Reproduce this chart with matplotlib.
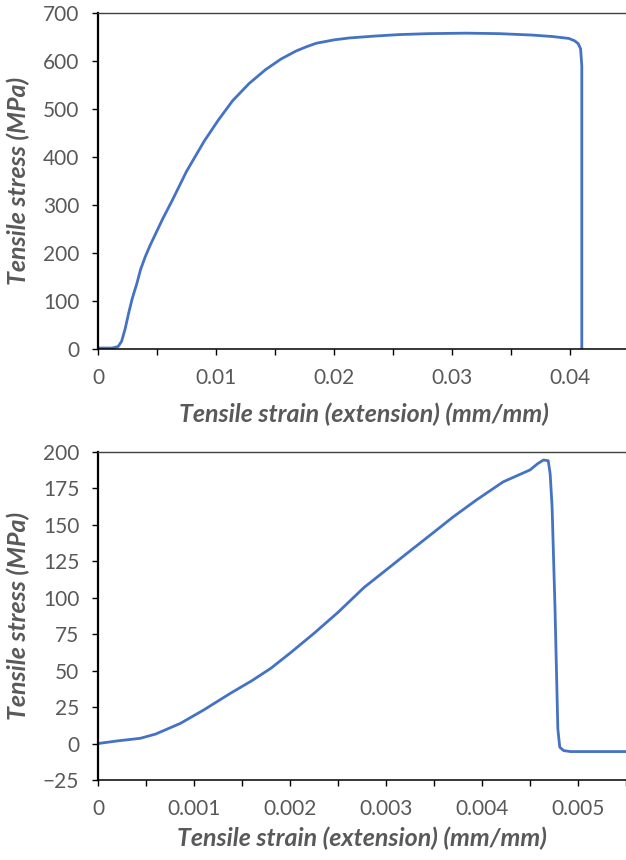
import matplotlib
matplotlib.use("Agg")
from matplotlib import pyplot as plt
from matplotlib.ticker import MultipleLocator

# tensile test, full strain range (top plot)
strain_a = [0, 0.0005, 0.0012, 0.0017, 0.0020, 0.0023, 0.0026, 0.0029, 0.0033,
            0.0036, 0.0040, 0.0044, 0.0049, 0.0055, 0.0063, 0.0075, 0.0090,
            0.0102, 0.0114, 0.0128, 0.0142, 0.0155, 0.0168, 0.0177, 0.0185,
            0.0200, 0.0213, 0.0235, 0.0255, 0.0280, 0.0312, 0.0340, 0.0368,
            0.0385, 0.0399, 0.0404, 0.0407, 0.0409, 0.0410, 0.0410]
stress_a = [2, 2, 2, 5, 16, 42, 75, 105, 137,
            165, 192, 215, 241, 272, 310, 370, 433,
            477, 517, 553, 582, 604, 621, 630, 637,
            644, 648, 652, 655, 657, 658, 657, 654,
            651, 647, 642, 636, 625, 590, 0]

# tensile test, brittle sample (bottom plot)
strain_b = [0, 0.0002, 0.00044, 0.0006, 0.00086, 0.0011, 0.00138, 0.0016,
            0.0018, 0.0020, 0.00225, 0.0025, 0.00277, 0.0030, 0.0032, 0.00347,
            0.0037, 0.00394, 0.00422, 0.0045, 0.00458, 0.00464, 0.00469,
            0.00471, 0.00473, 0.00476, 0.00479, 0.00481, 0.00485, 0.00492, 0.0055]
stress_b = [0, 1.8, 3.6, 6.5, 13.9, 23, 34.5, 43,
            51.6, 62, 75.6, 90, 107, 119, 129.5, 143.5,
            155.5, 167, 179.5, 187.7, 192, 194.5, 194,
            185, 162.5, 94, 10, -2.5, -4.8, -5.5, -5.5]

xlabel = "Tensile strain (extension) (mm/mm)"
ylabel = "Tensile stress (MPa)"

blue = "#4472C4"
grey = "#595959"

plt.rcParams["font.family"] = ["Lato", "DejaVu Sans"]

fig = plt.figure(figsize=(6.26, 8.6), dpi=100)
ax1 = fig.add_axes([98 / 626, 1 - 349 / 860, 531 / 626, 336 / 860])
ax2 = fig.add_axes([98 / 626, 1 - 780 / 860, 528 / 626, 328 / 860])


def style(ax, xmaj, ymaj):
    ax.spines["right"].set_visible(False)
    ax.spines["top"].set_color("#404040")
    ax.spines["top"].set_linewidth(1.0)
    ax.spines["left"].set_linewidth(1.6)
    ax.spines["bottom"].set_linewidth(1.1)
    ax.xaxis.set_major_locator(MultipleLocator(xmaj))
    ax.xaxis.set_minor_locator(MultipleLocator(xmaj / 2))
    ax.yaxis.set_major_locator(MultipleLocator(ymaj))
    ax.tick_params(axis="both", which="both", direction="out", length=4.5,
                   width=1.0, color="black", labelcolor=grey, labelsize=15)
    ax.tick_params(axis="x", which="major", pad=9)
    ax.tick_params(axis="y", which="major", pad=9)
    ax.set_xlabel(xlabel, fontsize=18, fontweight="bold", fontstyle="italic", color=grey)
    ax.set_ylabel(ylabel, fontsize=18, fontweight="bold", fontstyle="italic", color=grey)
    ax.xaxis.set_major_formatter(lambda v, p: "0" if v == 0 else f"{v:g}")


ax1.plot(strain_a, stress_a, color=blue, linewidth=2.0, solid_joinstyle="round")
ax1.set_xlim(0, 0.045)
ax1.set_ylim(0, 700)
style(ax1, 0.01, 100)
ax1.xaxis.set_label_coords(0.5, -0.16)
ax1.yaxis.set_label_coords(-0.128, 0.5)

ax2.plot(strain_b, stress_b, color=blue, linewidth=2.0, solid_joinstyle="round")
ax2.set_xlim(0, 0.0055)
ax2.set_ylim(-25, 200)
style(ax2, 0.001, 25)
ax2.xaxis.set_label_coords(0.5, -0.142)
ax2.yaxis.set_label_coords(-0.128, 0.5)

fig.savefig("out.png", dpi=100)
